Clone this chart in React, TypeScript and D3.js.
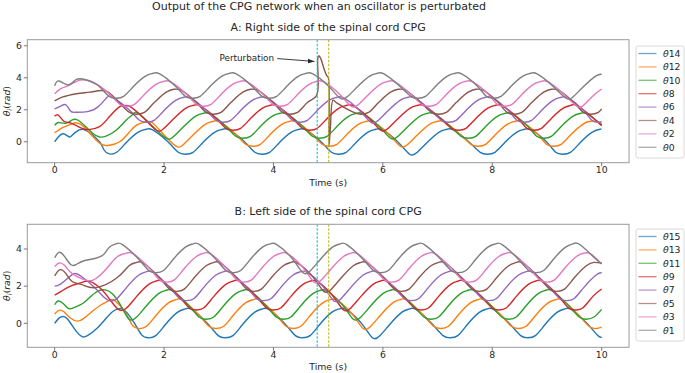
import React from 'react';
import * as d3 from 'd3';

type Pt = [number, number];

// ---- Right side (panel A): [time s, theta rad] ----
const rightTheta14: Pt[] = [[0,0.0],[0.07,0.31],[0.16,0.5],[0.26,0.31],[0.32,0.4],[0.44,0.72],[0.53,0.77],[0.62,0.62],[0.82,0.0],[0.9,-0.5],[1.0,-0.76],[1.14,-0.64],
  [1.31,-0.05],[1.53,0.6],[1.67,0.78],[1.79,0.74],[2.07,0.0],
  [2.26,-0.66],[2.39,-0.78],[2.53,-0.66],[2.71,-0.05],[2.93,0.6],[3.07,0.78],[3.19,0.74],[3.47,0.0],
  [3.66,-0.66],[3.79,-0.78],[3.93,-0.66],[4.11,-0.05],[4.33,0.6],[4.47,0.78],[4.59,0.74],[4.87,0.0],
  [5.06,-0.66],[5.19,-0.78],[5.33,-0.66],[5.51,-0.05],[5.73,0.6],[5.87,0.78],[5.99,0.74],[6.27,0.0],
  [6.49,-0.78],[6.63,-0.66],[6.81,-0.05],[7.03,0.6],[7.17,0.78],[7.29,0.74],[7.57,0.0],
  [7.78,-0.66],[7.91,-0.78],[8.05,-0.66],[8.23,-0.05],[8.45,0.6],[8.59,0.78],[8.71,0.74],[8.99,0.0],
  [9.16,-0.66],[9.29,-0.78],[9.43,-0.66],[9.61,-0.05],[9.83,0.6],[9.97,0.78],[10.0,0.78]];
const rightTheta12: Pt[] = [[0,0.56],[0.12,0.83],[0.21,0.98],[0.29,1.08],[0.38,1.19],[0.5,1.04],[0.62,0.62],[0.76,0.1],[0.88,-0.2],[1.0,-0.22],[1.19,0.0],[1.37,0.62],[1.5,1.04],[1.66,1.24],[1.78,1.2],[1.98,0.5],
  [2.22,-0.28],[2.36,-0.16],[2.54,0.45],[2.76,1.1],[2.9,1.28],[3.02,1.24],[3.3,0.5],
  [3.49,-0.16],[3.62,-0.28],[3.76,-0.16],[3.94,0.45],[4.16,1.1],[4.3,1.28],[4.42,1.24],[4.7,0.5],
  [4.89,-0.16],[5.02,-0.28],[5.16,-0.16],[5.34,0.45],[5.56,1.1],[5.7,1.28],[5.82,1.24],[6.1,0.5],
  [6.32,-0.28],[6.46,-0.16],[6.64,0.45],[6.86,1.1],[7.0,1.28],[7.12,1.24],[7.4,0.5],
  [7.61,-0.16],[7.74,-0.28],[7.88,-0.16],[8.06,0.45],[8.28,1.1],[8.42,1.28],[8.54,1.24],[8.82,0.5],
  [8.99,-0.16],[9.12,-0.28],[9.26,-0.16],[9.44,0.45],[9.66,1.1],[9.8,1.28],[9.92,1.24],[10.0,1.1]];
const rightTheta10: Pt[] = [[0,1.03],[0.07,1.2],[0.2,1.15],[0.32,1.36],[0.42,1.36],[0.57,0.94],[0.7,0.52],[0.82,0.3],[0.94,0.35],[1.13,0.73],[1.31,1.36],[1.43,1.72],[1.52,1.8],[1.78,1.0],
  [2.04,0.22],[2.18,0.34],[2.36,0.95],[2.58,1.6],[2.72,1.78],[2.84,1.74],[3.12,1.0],
  [3.31,0.34],[3.44,0.22],[3.58,0.34],[3.76,0.95],[3.98,1.6],[4.12,1.78],[4.24,1.74],[4.52,1.0],
  [4.71,0.34],[4.84,0.22],[4.98,0.34],[5.16,0.95],[5.38,1.6],[5.52,1.78],[5.64,1.74],[5.92,1.0],
  [6.14,0.22],[6.28,0.34],[6.46,0.95],[6.68,1.6],[6.82,1.78],[6.94,1.74],[7.22,1.0],
  [7.43,0.34],[7.56,0.22],[7.7,0.34],[7.88,0.95],[8.1,1.6],[8.24,1.78],[8.36,1.74],[8.64,1.0],
  [8.81,0.34],[8.94,0.22],[9.08,0.34],[9.26,0.95],[9.48,1.6],[9.62,1.78],[9.74,1.74],[10.0,1.05]];
const rightTheta8: Pt[] = [[0,1.6],[0.07,1.66],[0.16,1.3],[0.26,1.2],[0.38,1.04],[0.5,0.83],[0.62,0.76],[0.82,0.94],[1.0,1.56],[1.19,2.2],[1.28,2.26],[1.38,2.2],[1.62,1.5],
  [1.86,0.72],[2.0,0.84],[2.18,1.45],[2.4,2.1],[2.54,2.28],[2.66,2.24],[2.94,1.5],
  [3.13,0.84],[3.26,0.72],[3.4,0.84],[3.58,1.45],[3.8,2.1],[3.94,2.28],[4.06,2.24],[4.34,1.5],
  [4.53,0.84],[4.66,0.72],[4.8,0.84],[4.98,1.45],[5.2,2.1],[5.34,2.28],[5.46,2.24],[5.74,1.5],
  [5.96,0.72],[6.1,0.84],[6.28,1.45],[6.5,2.1],[6.64,2.28],[6.76,2.24],[7.04,1.5],
  [7.25,0.84],[7.38,0.72],[7.52,0.84],[7.7,1.45],[7.92,2.1],[8.06,2.28],[8.18,2.24],[8.46,1.5],
  [8.63,0.84],[8.76,0.72],[8.9,0.84],[9.08,1.45],[9.3,2.1],[9.44,2.28],[9.56,2.24],[9.84,1.5],[10.0,1.0]];
const rightTheta6: Pt[] = [[0,2.05],[0.12,2.25],[0.21,2.3],[0.29,1.92],[0.38,1.84],[0.6,1.88],[0.8,2.2],[0.96,2.78],[1.08,2.74],[1.36,2.0],
  [1.55,1.34],[1.68,1.22],[1.82,1.34],[2.0,1.95],[2.22,2.6],[2.36,2.78],[2.48,2.74],[2.76,2.0],
  [2.95,1.34],[3.08,1.22],[3.22,1.34],[3.4,1.95],[3.62,2.6],[3.76,2.78],[3.88,2.74],[4.16,2.0],
  [4.35,1.34],[4.48,1.22],[4.62,1.34],[4.8,1.95],[5.02,2.6],[5.16,2.78],[5.28,2.74],[5.56,2.0],
  [5.78,1.22],[5.92,1.34],[6.1,1.95],[6.32,2.6],[6.46,2.78],[6.58,2.74],[6.86,2.0],
  [7.07,1.34],[7.2,1.22],[7.34,1.34],[7.52,1.95],[7.74,2.6],[7.88,2.78],[8.0,2.74],[8.28,2.0],
  [8.45,1.34],[8.58,1.22],[8.72,1.34],[8.9,1.95],[9.12,2.6],[9.26,2.78],[9.38,2.74],[9.66,2.0],
  [9.82,1.34],[9.95,1.22],[10.0,1.25]];
const rightTheta4: Pt[] = [[0,2.55],[0.15,2.8],[0.4,3.0],[0.64,3.1],[0.85,3.2],[0.97,3.12],
  [1.37,1.84],[1.5,1.72],[1.64,1.84],[1.82,2.45],[2.04,3.1],[2.18,3.28],[2.3,3.24],[2.58,2.5],
  [2.77,1.84],[2.9,1.72],[3.04,1.84],[3.22,2.45],[3.44,3.1],[3.58,3.28],[3.7,3.24],[3.98,2.5],
  [4.17,1.84],[4.3,1.72],[4.44,1.84],[4.62,2.45],[4.79,2.9],[4.81,5.2],[4.83,5.38],[4.87,5.15],[4.93,4.5],[4.98,4.1],[5.0,4.05],[5.015,-0.25],[5.04,0.8],[5.09,2.6],[5.15,2.45],
  [5.47,1.84],[5.6,1.72],[5.74,1.84],[5.92,2.45],[6.14,3.1],[6.28,3.28],[6.4,3.24],[6.68,2.5],
  [6.89,1.84],[7.02,1.72],[7.16,1.84],[7.34,2.45],[7.56,3.1],[7.7,3.28],[7.82,3.24],[8.1,2.5],
  [8.27,1.84],[8.4,1.72],[8.54,1.84],[8.72,2.45],[8.94,3.1],[9.08,3.28],[9.2,3.24],[9.48,2.5],
  [9.67,1.84],[9.8,1.72],[9.94,1.84],[10.0,2.05]];
const rightTheta2: Pt[] = [[0,3.0],[0.12,3.33],[0.27,3.54],[0.46,3.85],[0.68,3.76],[0.95,3.15],
  [1.19,2.34],[1.32,2.22],[1.46,2.34],[1.64,2.95],[1.86,3.6],[2.0,3.78],[2.12,3.74],[2.4,3.0],
  [2.59,2.34],[2.72,2.22],[2.86,2.34],[3.04,2.95],[3.26,3.6],[3.4,3.78],[3.52,3.74],[3.8,3.0],
  [3.99,2.34],[4.12,2.22],[4.26,2.34],[4.44,2.95],[4.66,3.6],[4.8,3.78],[4.92,3.74],[5.2,3.0],
  [5.42,2.22],[5.56,2.34],[5.74,2.95],[5.96,3.6],[6.1,3.78],[6.22,3.74],[6.5,3.0],
  [6.71,2.34],[6.84,2.22],[6.98,2.34],[7.16,2.95],[7.38,3.6],[7.52,3.78],[7.64,3.74],[7.92,3.0],
  [8.09,2.34],[8.22,2.22],[8.36,2.34],[8.54,2.95],[8.76,3.6],[8.9,3.78],[9.02,3.74],[9.3,3.0],
  [9.55,2.22],[9.69,2.34],[9.87,2.95],[10.0,3.3]];
const rightTheta0: Pt[] = [[0,3.5],[0.08,3.8],[0.25,3.55],[0.4,3.9],[0.58,3.86],[0.8,3.5],
  [0.99,2.84],[1.12,2.72],[1.26,2.84],[1.44,3.45],[1.66,4.1],[1.8,4.28],[1.92,4.24],[2.2,3.5],
  [2.39,2.84],[2.52,2.72],[2.66,2.84],[2.84,3.45],[3.06,4.1],[3.2,4.28],[3.32,4.24],[3.6,3.5],
  [3.79,2.84],[3.92,2.72],[4.06,2.84],[4.24,3.45],[4.46,4.1],[4.6,4.28],[4.72,4.24],[5.0,3.5],
  [5.22,2.72],[5.36,2.84],[5.54,3.45],[5.76,4.1],[5.9,4.28],[6.02,4.24],[6.3,3.5],
  [6.51,2.84],[6.64,2.72],[6.78,2.84],[6.96,3.45],[7.18,4.1],[7.32,4.28],[7.44,4.24],[7.72,3.5],
  [7.89,2.84],[8.02,2.72],[8.16,2.84],[8.34,3.45],[8.56,4.1],[8.7,4.28],[8.82,4.24],[9.1,3.5],
  [9.35,2.72],[9.49,2.84],[9.67,3.45],[9.89,4.1],[10.0,4.22]];

// ---- Left side (panel B) ----
const leftTheta15: Pt[] = [[0,0.0],[0.08,0.28],[0.17,0.36],[0.27,0.1],[0.4,-0.45],[0.5,-0.72],[0.6,-0.66],[0.78,-0.25],[0.95,0.3],[1.07,0.65],[1.16,0.78],[1.27,0.72],
  [1.45,0.05],[1.59,-0.62],[1.71,-0.78],[1.85,-0.66],[2.03,-0.05],[2.25,0.6],[2.39,0.78],[2.51,0.74],[2.79,0.0],
  [2.99,-0.66],[3.12,-0.78],[3.26,-0.66],[3.44,-0.05],[3.66,0.6],[3.8,0.78],[3.92,0.74],[4.2,0.0],
  [4.4,-0.66],[4.53,-0.78],[4.67,-0.66],[4.85,-0.05],[5.07,0.6],[5.21,0.78],[5.33,0.74],[5.61,0.0],
  [5.81,-0.78],[5.95,-0.66],[6.13,-0.05],[6.35,0.6],[6.49,0.78],[6.61,0.74],[6.89,0.0],
  [7.1,-0.66],[7.23,-0.78],[7.37,-0.66],[7.55,-0.05],[7.77,0.6],[7.91,0.78],[8.03,0.74],[8.31,0.0],
  [8.52,-0.66],[8.65,-0.78],[8.79,-0.66],[8.97,-0.05],[9.19,0.6],[9.33,0.78],[9.45,0.74],[9.73,0.0],
  [9.93,-0.66],[10.0,-0.74]];
const leftTheta13: Pt[] = [[0,0.5],[0.08,0.7],[0.17,0.62],[0.28,0.3],[0.42,0.12],[0.54,0.28],[0.68,0.62],[0.85,1.0],[1.0,1.24],[1.1,1.22],
  [1.3,0.55],[1.42,-0.1],[1.54,-0.28],[1.68,-0.16],[1.86,0.45],[2.08,1.1],[2.22,1.28],[2.34,1.24],[2.62,0.5],
  [2.82,-0.16],[2.95,-0.28],[3.09,-0.16],[3.27,0.45],[3.49,1.1],[3.63,1.28],[3.75,1.24],[4.03,0.5],
  [4.23,-0.16],[4.36,-0.28],[4.5,-0.16],[4.68,0.45],[4.9,1.1],[5.04,1.28],[5.16,1.24],[5.44,0.5],
  [5.64,-0.28],[5.78,-0.16],[5.96,0.45],[6.18,1.1],[6.32,1.28],[6.44,1.24],[6.72,0.5],
  [6.93,-0.16],[7.06,-0.28],[7.2,-0.16],[7.38,0.45],[7.6,1.1],[7.74,1.28],[7.86,1.24],[8.14,0.5],
  [8.35,-0.16],[8.48,-0.28],[8.62,-0.16],[8.8,0.45],[9.02,1.1],[9.16,1.28],[9.28,1.24],[9.56,0.5],
  [9.77,-0.16],[9.9,-0.28],[10.0,-0.2]];
const leftTheta11: Pt[] = [[0,1.0],[0.06,1.2],[0.15,1.08],[0.25,0.8],[0.35,0.84],[0.52,1.08],[0.66,1.45],[0.8,1.75],[0.92,1.8],[1.05,1.6],
  [1.22,0.9],[1.36,0.22],[1.5,0.34],[1.68,0.95],[1.9,1.6],[2.04,1.78],[2.16,1.74],[2.44,1.0],
  [2.64,0.34],[2.77,0.22],[2.91,0.34],[3.09,0.95],[3.31,1.6],[3.45,1.78],[3.57,1.74],[3.85,1.0],
  [4.05,0.34],[4.18,0.22],[4.32,0.34],[4.5,0.95],[4.72,1.6],[4.86,1.78],[4.98,1.74],[5.26,1.0],
  [5.46,0.22],[5.6,0.34],[5.78,0.95],[6.0,1.6],[6.14,1.78],[6.26,1.74],[6.54,1.0],
  [6.75,0.34],[6.88,0.22],[7.02,0.34],[7.2,0.95],[7.42,1.6],[7.56,1.78],[7.68,1.74],[7.96,1.0],
  [8.17,0.34],[8.3,0.22],[8.44,0.34],[8.62,0.95],[8.84,1.6],[8.98,1.78],[9.1,1.74],[9.38,1.0],
  [9.59,0.34],[9.72,0.22],[9.86,0.34],[10.0,0.75]];
const leftTheta9: Pt[] = [[0,1.52],[0.12,1.72],[0.3,2.02],[0.5,2.2],[0.64,2.26],[0.85,1.85],
  [1.03,1.2],[1.18,0.72],[1.32,0.84],[1.5,1.45],[1.72,2.1],[1.86,2.28],[1.98,2.24],[2.26,1.5],
  [2.46,0.84],[2.59,0.72],[2.73,0.84],[2.91,1.45],[3.13,2.1],[3.27,2.28],[3.39,2.24],[3.67,1.5],
  [3.87,0.84],[4.0,0.72],[4.14,0.84],[4.32,1.45],[4.54,2.1],[4.68,2.28],[4.8,2.24],[5.08,1.5],
  [5.28,0.72],[5.42,0.84],[5.6,1.45],[5.82,2.1],[5.96,2.28],[6.08,2.24],[6.36,1.5],
  [6.57,0.84],[6.7,0.72],[6.84,0.84],[7.02,1.45],[7.24,2.1],[7.38,2.28],[7.5,2.24],[7.78,1.5],
  [7.99,0.84],[8.12,0.72],[8.26,0.84],[8.44,1.45],[8.66,2.1],[8.8,2.28],[8.92,2.24],[9.2,1.5],
  [9.39,0.84],[9.52,0.72],[9.66,0.84],[9.84,1.45],[10.0,1.85]];
const leftTheta7: Pt[] = [[0,2.0],[0.1,2.1],[0.25,2.45],[0.37,2.68],[0.52,2.45],[0.72,1.95],[0.87,1.5],
  [1.0,1.22],[1.14,1.34],[1.32,1.95],[1.54,2.6],[1.68,2.78],[1.8,2.74],[2.08,2.0],
  [2.28,1.34],[2.41,1.22],[2.55,1.34],[2.73,1.95],[2.95,2.6],[3.09,2.78],[3.21,2.74],[3.49,2.0],
  [3.69,1.34],[3.82,1.22],[3.96,1.34],[4.14,1.95],[4.36,2.6],[4.5,2.78],[4.62,2.74],[4.9,2.0],
  [5.1,1.22],[5.24,1.34],[5.42,1.95],[5.64,2.6],[5.78,2.78],[5.9,2.74],[6.18,2.0],
  [6.39,1.34],[6.52,1.22],[6.66,1.34],[6.84,1.95],[7.06,2.6],[7.2,2.78],[7.32,2.74],[7.6,2.0],
  [7.81,1.34],[7.94,1.22],[8.08,1.34],[8.26,1.95],[8.48,2.6],[8.62,2.78],[8.74,2.74],[9.02,2.0],
  [9.23,1.34],[9.36,1.22],[9.5,1.34],[9.68,1.95],[9.9,2.6],[10.0,2.72]];
const leftTheta5: Pt[] = [[0,2.55],[0.09,2.88],[0.2,2.7],[0.32,2.25],[0.5,2.08],[0.75,1.92],
  [1.14,2.45],[1.36,3.1],[1.5,3.28],[1.62,3.24],[1.9,2.5],
  [2.1,1.84],[2.23,1.72],[2.37,1.84],[2.55,2.45],[2.77,3.1],[2.91,3.28],[3.03,3.24],[3.31,2.5],
  [3.51,1.84],[3.64,1.72],[3.78,1.84],[3.96,2.45],[4.18,3.1],[4.32,3.28],[4.44,3.24],[4.72,2.5],
  [4.92,1.72],[5.06,1.84],[5.24,2.45],[5.46,3.1],[5.6,3.28],[5.72,3.24],[6.0,2.5],
  [6.21,1.84],[6.34,1.72],[6.48,1.84],[6.66,2.45],[6.88,3.1],[7.02,3.28],[7.14,3.24],[7.42,2.5],
  [7.63,1.84],[7.76,1.72],[7.9,1.84],[8.08,2.45],[8.3,3.1],[8.44,3.28],[8.56,3.24],[8.84,2.5],
  [9.05,1.84],[9.18,1.72],[9.32,1.84],[9.5,2.45],[9.72,3.1],[9.86,3.28],[10.0,3.25]];
const leftTheta3: Pt[] = [[0,3.05],[0.08,3.25],[0.18,3.12],[0.28,2.78],[0.42,2.5],[0.6,2.3],[0.75,2.4],[0.95,2.95],[1.15,3.6],
  [1.32,3.78],[1.44,3.74],[1.72,3.0],
  [1.92,2.34],[2.05,2.22],[2.19,2.34],[2.37,2.95],[2.59,3.6],[2.73,3.78],[2.85,3.74],[3.13,3.0],
  [3.33,2.34],[3.46,2.22],[3.6,2.34],[3.78,2.95],[4.0,3.6],[4.14,3.78],[4.26,3.74],[4.54,3.0],
  [4.74,2.22],[4.88,2.34],[5.06,2.95],[5.28,3.6],[5.42,3.78],[5.54,3.74],[5.82,3.0],
  [6.03,2.34],[6.16,2.22],[6.3,2.34],[6.48,2.95],[6.7,3.6],[6.84,3.78],[6.96,3.74],[7.24,3.0],
  [7.45,2.34],[7.58,2.22],[7.72,2.34],[7.9,2.95],[8.12,3.6],[8.26,3.78],[8.38,3.74],[8.66,3.0],
  [8.87,2.34],[9.0,2.22],[9.14,2.34],[9.32,2.95],[9.54,3.6],[9.68,3.78],[9.8,3.74],[10.0,3.2]];
const leftTheta1: Pt[] = [[0,3.53],[0.08,3.82],[0.18,3.6],[0.3,3.15],[0.4,3.18],[0.55,3.38],[0.75,3.5],[0.9,3.72],[1.0,4.1],
  [1.12,4.28],[1.24,4.24],[1.52,3.5],
  [1.72,2.84],[1.85,2.72],[1.99,2.84],[2.17,3.45],[2.39,4.1],[2.53,4.28],[2.65,4.24],[2.93,3.5],
  [3.13,2.84],[3.26,2.72],[3.4,2.84],[3.58,3.45],[3.8,4.1],[3.94,4.28],[4.06,4.24],[4.34,3.5],
  [4.54,2.72],[4.68,2.84],[4.86,3.45],[5.08,4.1],[5.22,4.28],[5.34,4.24],[5.62,3.5],
  [5.83,2.84],[5.96,2.72],[6.1,2.84],[6.28,3.45],[6.5,4.1],[6.64,4.28],[6.76,4.24],[7.04,3.5],
  [7.25,2.84],[7.38,2.72],[7.52,2.84],[7.7,3.45],[7.92,4.1],[8.06,4.28],[8.18,4.24],[8.46,3.5],
  [8.67,2.84],[8.8,2.72],[8.94,2.84],[9.12,3.45],[9.34,4.1],[9.48,4.28],[9.6,4.24],[9.88,3.5],[10.0,3.2]];

const rightSeries = [rightTheta14, rightTheta12, rightTheta10, rightTheta8, rightTheta6, rightTheta4, rightTheta2, rightTheta0];
const rightLabels = ['14', '12', '10', '8', '6', '4', '2', '0'];
const leftSeries = [leftTheta15, leftTheta13, leftTheta11, leftTheta9, leftTheta7, leftTheta5, leftTheta3, leftTheta1];
const leftLabels = ['15', '13', '11', '9', '7', '5', '3', '1'];

const xTicks = [0, 2, 4, 6, 8, 10];
const rightYTicks = [0, 2, 4, 6];
const leftYTicks = [0, 2, 4];
const perturbStart = 4.8;
const perturbEnd = 5.01;

const colors = ['#1f77b4', '#ff7f0e', '#2ca02c', '#d62728', '#9467bd', '#8c564b', '#e377c2', '#7f7f7f'];
const FONT = 'DejaVu Sans, sans-serif';
const INK = '#262626';

const PLOT_L = 27.3;
const PLOT_R = 629;

type PanelProps = {
  title: string;
  top: number;
  bottom: number;
  yDomain: [number, number];
  yTicks: number[];
  series: Pt[][];
  labels: string[];
  legendTop: number;
  annotate?: boolean;
  id: string;
};

function Panel({ title, top, bottom, yDomain, yTicks, series, labels, legendTop, annotate, id }: PanelProps) {
  const x = d3.scaleLinear().domain([-0.5, 10.5]).range([PLOT_L, PLOT_R]);
  const y = d3.scaleLinear().domain(yDomain).range([bottom, top]);
  const smooth = d3.line<Pt>().x(d => x(d[0])).y(d => y(d[1])).curve(d3.curveNatural);
  // the perturbed oscillator has near-vertical jumps, so it keeps a local spline
  const sharp = d3.line<Pt>().x(d => x(d[0])).y(d => y(d[1])).curve(d3.curveCatmullRom.alpha(0.5));
  const midY = (top + bottom) / 2;
  const midX = (PLOT_L + PLOT_R) / 2;

  return (
    <g>
      <defs>
        <clipPath id={`clip-${id}`}>
          <rect x={PLOT_L} y={top} width={PLOT_R - PLOT_L} height={bottom - top} />
        </clipPath>
      </defs>
      <text x={midX} y={top - 9} textAnchor="middle" fontSize={11} fill={INK} fontFamily={FONT}>{title}</text>

      <g clipPath={`url(#clip-${id})`}>
        {series.map((s, i) => (
          <path key={i} d={(annotate && i === 5 ? sharp(s) : smooth(s)) || ''} fill="none" stroke={colors[i]} strokeWidth={1.4} strokeLinejoin="round" />
        ))}
        <line x1={x(perturbStart)} x2={x(perturbStart)} y1={top} y2={bottom} stroke="#17becf" strokeWidth={1.1} strokeDasharray="2.5,1.5" />
        <line x1={x(perturbEnd)} x2={x(perturbEnd)} y1={top} y2={bottom} stroke="#bcbd22" strokeWidth={1.1} strokeDasharray="2.5,1.5" />
      </g>

      {annotate && (
        <g fontFamily={FONT}>
          <text x={x(3.015)} y={y(5.02)} fontSize={8.8} fill={INK}>Perturbation</text>
          <line x1={x(4.07)} y1={y(5.2)} x2={x(4.75)} y2={y(5.02)} stroke={INK} strokeWidth={0.9} markerEnd="url(#arrowhead)" />
        </g>
      )}

      <rect x={PLOT_L} y={top} width={PLOT_R - PLOT_L} height={bottom - top} fill="none" stroke="#9a9a9a" strokeWidth={1} />

      {xTicks.map(t => (
        <g key={t}>
          <line x1={x(t)} x2={x(t)} y1={bottom} y2={bottom + 3.5} stroke="#555" strokeWidth={0.8} />
          <text x={x(t)} y={bottom + 10.6} textAnchor="middle" fontSize={9.3} fill={INK} fontFamily={FONT}>{t}</text>
        </g>
      ))}
      {yTicks.map(t => (
        <g key={t}>
          <line x1={PLOT_L - 3.5} x2={PLOT_L} y1={y(t)} y2={y(t)} stroke="#555" strokeWidth={0.8} />
          <text x={PLOT_L - 5.5} y={y(t) + 3.3} textAnchor="end" fontSize={9.3} fill={INK} fontFamily={FONT}>{t}</text>
        </g>
      ))}
      <text x={midX} y={bottom + 23} textAnchor="middle" fontSize={9.3} fill={INK} fontFamily={FONT}>Time (s)</text>
      <text transform={`translate(10,${midY}) rotate(-90)`} textAnchor="middle" fontSize={9.3} fill={INK} fontFamily={FONT}>
        <tspan fontStyle="italic">θ</tspan>
        <tspan fontStyle="italic" fontSize={6.8} dy={2}>i</tspan>
        <tspan dy={-2}>(</tspan>
        <tspan fontStyle="italic">rad</tspan>
        <tspan>)</tspan>
      </text>

      <g fontFamily={FONT}>
        <rect x={636} y={legendTop} width={48} height={112} rx={2} fill="#fff" fillOpacity={0.8} stroke="#d0d0d0" strokeWidth={0.8} />
        {labels.map((lab, i) => {
          const ry = legendTop + 7.5 + i * 13.4;
          return (
            <g key={lab}>
              <line x1={638.5} x2={656.5} y1={ry} y2={ry} stroke={colors[i]} strokeWidth={1.3} strokeOpacity={0.65} />
              <text x={663} y={ry + 3.3} fontSize={9.3} fill={INK}>
                <tspan fontStyle="italic">θ</tspan>{lab}
              </text>
            </g>
          );
        })}
      </g>
    </g>
  );
}

export default function App() {
  return (
    <div style={{ position: 'absolute', left: 0, top: 0 }}>
      <svg width={685} height={373} viewBox="0 0 685 373" style={{ display: 'block', background: '#fff' }}>
        <defs>
          <marker id="arrowhead" viewBox="0 0 10 10" refX="10" refY="5" markerWidth="6.5" markerHeight="6.5" orient="auto" markerUnits="userSpaceOnUse">
            <path d="M0,1.5 L10,5 L0,8.5 z" fill={INK} />
          </marker>
        </defs>
        <text x={319} y={9.7} textAnchor="middle" fontSize={11} fill={INK} fontFamily={FONT}>
          Output of the CPG network when an oscillator is perturbated
        </text>
        <Panel id="a" title="A: Right side of the spinal cord CPG" top={39.7} bottom={162.7} yDomain={[-1.31, 6.38]}
          yTicks={rightYTicks} series={rightSeries} labels={rightLabels} legendTop={46} annotate />
        <Panel id="b" title="B: Left side of the spinal cord CPG" top={224.3} bottom={347.3} yDomain={[-1.29, 5.33]}
          yTicks={leftYTicks} series={leftSeries} labels={leftLabels} legendTop={229} />
      </svg>
    </div>
  );
}
